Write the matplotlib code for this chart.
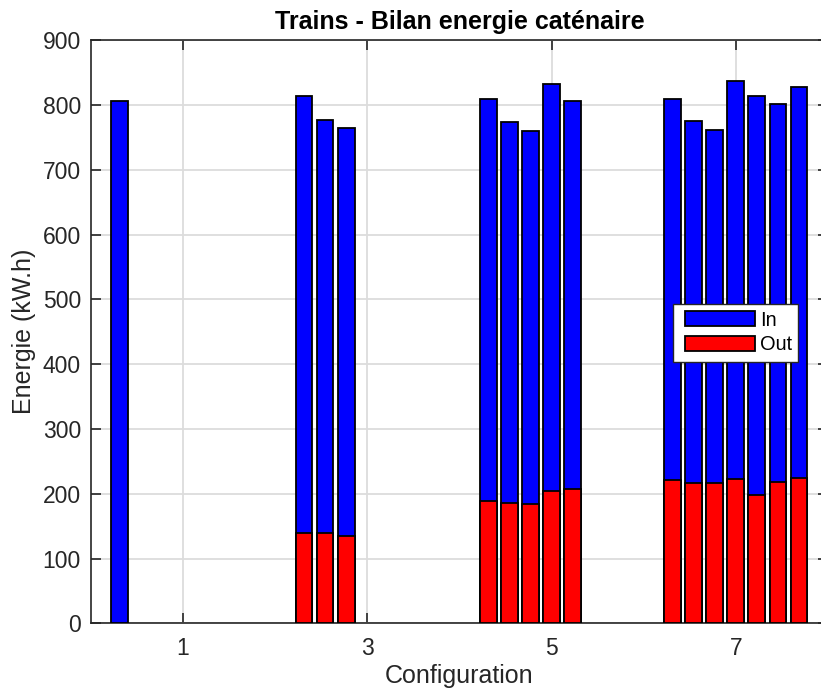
import matplotlib
matplotlib.use("Agg")
import matplotlib.pyplot as plt
from matplotlib.patches import Patch, Rectangle

plt.rcParams['font.family'] = ['Liberation Sans', 'DejaVu Sans']

# Configurations shown on the x axis and their energy balances (kW.h)
configs = [1, 3, 5, 7]
in_c1 = [806]
in_c3 = [814, 777, 765]
in_c5 = [809, 774, 760, 832, 806]
in_c7 = [810, 775, 762, 837, 814, 802, 828]
out_c1 = [0]
out_c3 = [140, 139, 135]
out_c5 = [188, 186, 184, 204, 208]
out_c7 = [221, 217, 217, 223, 198, 218, 224]
x_ticks = [1, 3, 5, 7]
y_ticks = list(range(0, 1000, 100))

energy_in = [in_c1, in_c3, in_c5, in_c7]
energy_out = [out_c1, out_c3, out_c5, out_c7]

W, H = 821, 690
AX_COLOR = '#262626'
GRID_COLOR = '#dcdcdc'
n_slots = 7
slot = 1.6 / n_slots
bar_w = 0.8 * slot

fig = plt.figure(figsize=(W / 100, H / 100), dpi=100)
ax = fig.add_axes([90.7 / W, 1 - 623.3 / H, (828 - 90.7) / W, (623.3 - 40.2) / H])

for c, vin, vout in zip(configs, energy_in, energy_out):
    xs = [c + (k - (n_slots - 1) / 2) * slot for k in range(len(vin))]
    ax.bar(xs, vin, width=bar_w, color='#0000ff', edgecolor='black',
           linewidth=1.3, zorder=3)
    xo = [x for x, v in zip(xs, vout) if v > 0]
    vo = [v for v in vout if v > 0]
    ax.bar(xo, vo, width=bar_w, color='#ff0000', edgecolor='black',
           linewidth=1.3, zorder=4)

ax.set_xlim(0, 8)
ax.set_ylim(0, 900)
ax.set_xticks(x_ticks)
ax.set_yticks(y_ticks)
ax.grid(True, color=GRID_COLOR, linewidth=1.3, zorder=0)
ax.set_axisbelow(True)

for s in ax.spines.values():
    s.set_color(AX_COLOR)
    s.set_linewidth(1.2)
ax.spines['right'].set_visible(False)
ax.tick_params(direction='in', length=7, width=1.2, color=AX_COLOR,
               labelcolor=AX_COLOR, labelsize=16.5, top=True, right=True)
ax.tick_params(axis='y', pad=7)
ax.tick_params(axis='x', pad=10)

ax.set_title('Trains - Bilan energie caténaire', fontsize=18,
             fontweight='bold', color='black', pad=8)
ax.set_xlabel('Configuration', fontsize=18, color=AX_COLOR, labelpad=3)
ax.set_ylabel('Energie (kW.h)', fontsize=18, color=AX_COLOR, labelpad=5)

# legend box drawn in figure pixels, entries placed inside it
fig.patches.append(Rectangle((672.7 / W, 1 - 361.7 / H), (798.3 - 672.7) / W,
                             (361.7 - 304) / H, transform=fig.transFigure,
                             facecolor='white', edgecolor=AX_COLOR,
                             linewidth=1.0, zorder=10))
handles = [Patch(facecolor='#0000ff', edgecolor='black', linewidth=1.3, label='In'),
           Patch(facecolor='#ff0000', edgecolor='black', linewidth=1.3, label='Out')]
leg = fig.legend(handles=handles, loc='center left',
                 bbox_to_anchor=(685 / W, 1 - 332.5 / H),
                 fontsize=14.4, frameon=False,
                 handlelength=3.5, handleheight=0.78, handletextpad=0.25,
                 borderpad=0, labelspacing=0.28, borderaxespad=0)
leg.set_zorder(11)
for t in leg.get_texts():
    t.set_color('black')

fig.savefig('out.png', dpi=100)
